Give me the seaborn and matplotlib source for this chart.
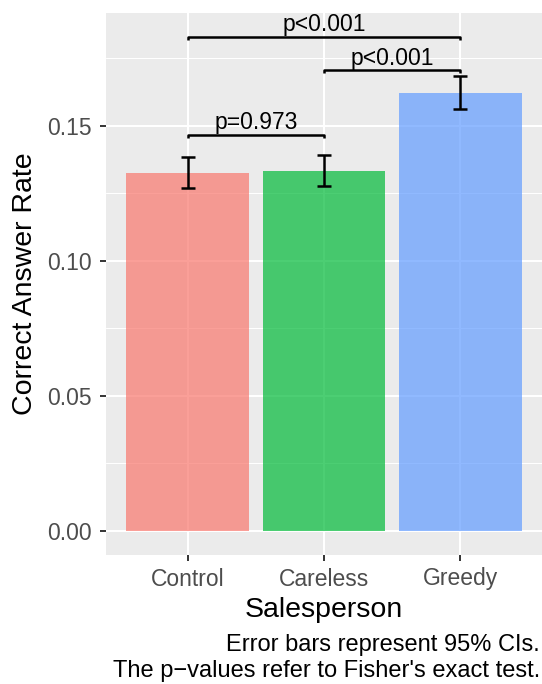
import matplotlib
matplotlib.use("Agg")
import matplotlib.pyplot as plt
import seaborn as sns
import pandas as pd
from matplotlib.ticker import MultipleLocator

# Data
groups = ["Control", "Careless", "Greedy"]
rates = [0.1326, 0.1333, 0.1622]
ci_low = [0.1270, 0.1278, 0.1563]
ci_high = [0.1385, 0.1393, 0.1685]
colors = ["#F8766D", "#00BA38", "#619CFF"]

# Significance brackets: (from group, to group, height, label)
bracket_from = [0, 1, 0]
bracket_to = [1, 2, 2]
bracket_y = [0.1467, 0.1707, 0.1830]
bracket_labels = ["p=0.973", "p<0.001", "p<0.001"]

caption = "Error bars represent 95% CIs.\nThe p\u2212values refer to Fisher's exact test."

df = pd.DataFrame({"Salesperson": groups, "rate": rates})

sns.set_theme(style="darkgrid", rc={
    "axes.facecolor": "#EBEBEB",
    "grid.color": "white",
    "axes.edgecolor": "none",
})
plt.rcParams["font.family"] = ["Liberation Sans", "DejaVu Sans"]

fig = plt.figure(figsize=(5.42, 6.84), dpi=100)
W, H = 542, 684
ax = fig.add_axes([106 / W, 1 - 555 / H, (W - 106) / W, (555 - 13) / H])

sns.barplot(data=df, x="Salesperson", y="rate", hue="Salesperson",
            palette=colors, saturation=1, alpha=0.7, width=0.9,
            errorbar=None, legend=False, ax=ax, zorder=2)
for p in ax.patches:
    p.set_linewidth(0)

xs = list(range(len(groups)))
ax.errorbar(xs, rates,
            yerr=[[r - lo for r, lo in zip(rates, ci_low)],
                  [hi - r for r, hi in zip(rates, ci_high)]],
            fmt="none", ecolor="black", elinewidth=1.8, capsize=5,
            capthick=1.8, zorder=4)

tick = 0.0011
for a, b, y, lab in zip(bracket_from, bracket_to, bracket_y, bracket_labels):
    ax.plot([a, a, b, b], [y - tick, y, y, y - tick], color="black",
            lw=1.8, solid_capstyle="butt", zorder=4)
    ax.text((a + b) / 2, y + 0.0002, lab, ha="center", va="bottom",
            fontsize=16.5, color="black")

ax.set_xlim(-0.6, 2.6)
ax.set_ylim(-0.00889, 0.19185)
ax.yaxis.set_minor_locator(MultipleLocator(0.025))
ax.set_yticks([0.0, 0.05, 0.10, 0.15])
ax.set_yticklabels(["0.00", "0.05", "0.10", "0.15"])
ax.grid(which="major", color="white", lw=1.5)
ax.grid(which="minor", axis="y", color="white", lw=0.75)
ax.set_axisbelow(True)

ax.tick_params(axis="both", which="major", length=4.5, width=1.4,
               color="#333333", labelcolor="#4D4D4D", labelsize=16.5,
               bottom=True, left=True)
ax.tick_params(axis="x", pad=4.5)
ax.tick_params(axis="y", pad=5.5)
ax.tick_params(which="minor", length=0)

ax.set_xlabel("Salesperson", fontsize=20.5, color="black")
ax.set_ylabel("Correct Answer Rate", fontsize=20.5, color="black")
ax.xaxis.set_label_coords((324 - 106) / 436, (555 - 597) / 542)
ax.yaxis.set_label_coords((38 - 106) / 436, 0.5)

fig.text(540 / W, 1 - 634 / H, caption, ha="right", va="top",
         fontsize=17, color="black", linespacing=1.25)

fig.savefig("out.png", dpi=100)
